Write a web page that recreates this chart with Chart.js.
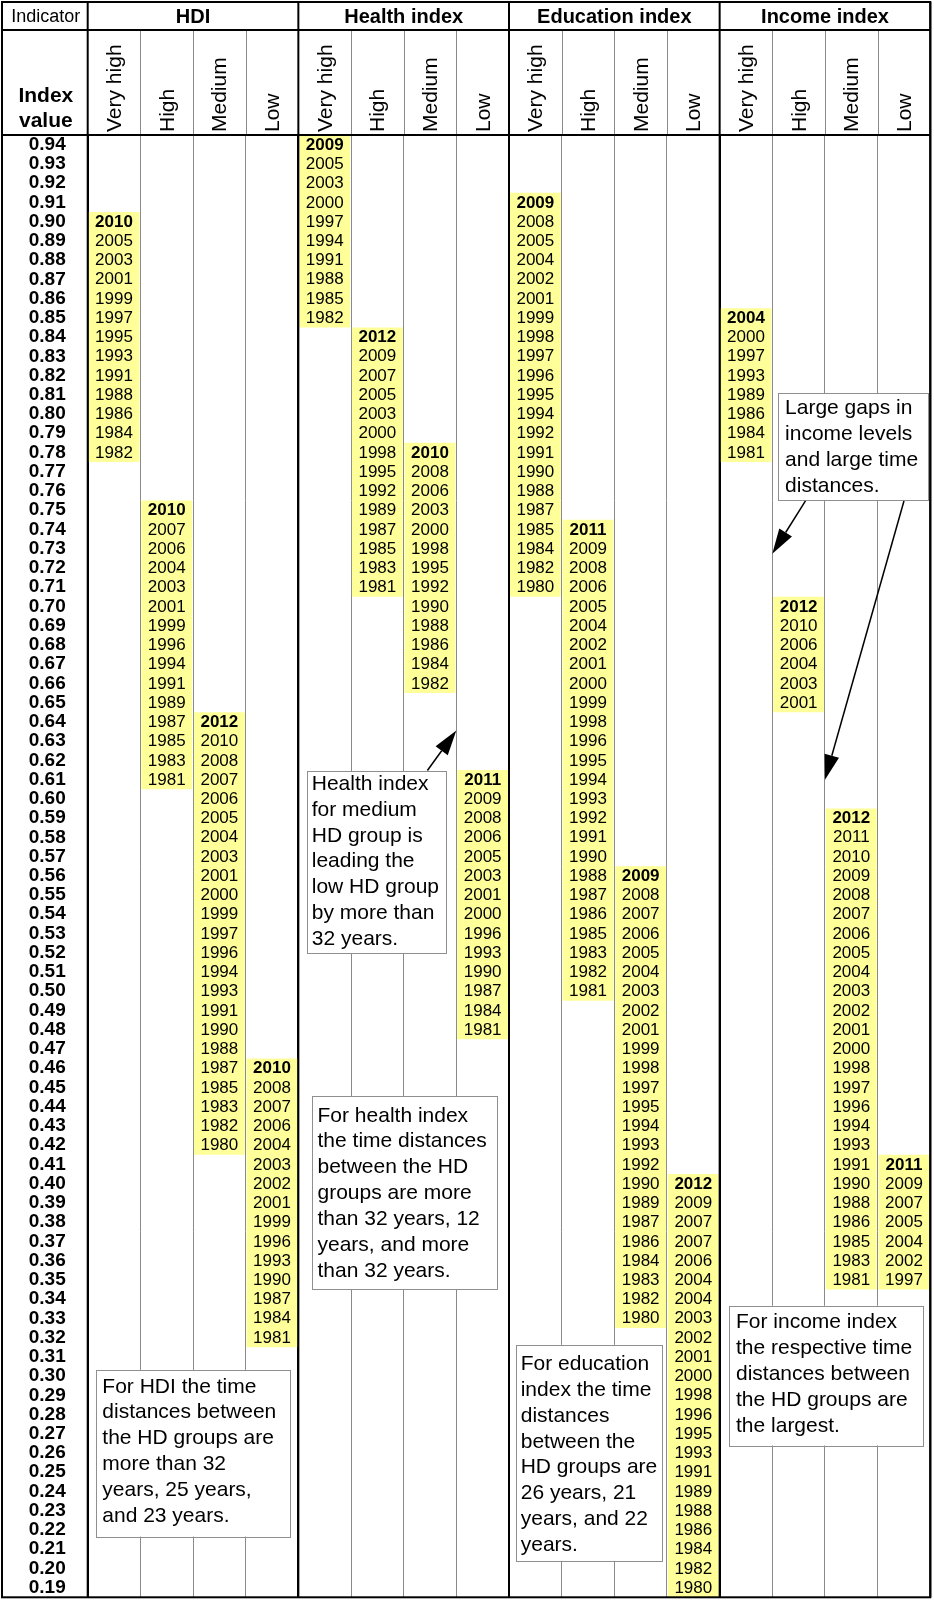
<!DOCTYPE html>
<html>
<head>
<meta charset="utf-8">
<script src="https://cdn.jsdelivr.net/npm/chart.js@4.4.1/dist/chart.umd.min.js"></script>
<style>html,body{margin:0;padding:0;background:#fff}canvas{display:block}</style>
</head>
<body>
<canvas id="c" width="934" height="1600"></canvas>
<script>
// ---------- DATA ----------
const indexValues = ['0.94','0.93','0.92','0.91','0.90','0.89','0.88','0.87','0.86','0.85',
  '0.84','0.83','0.82','0.81','0.80','0.79','0.78','0.77','0.76','0.75','0.74','0.73','0.72',
  '0.71','0.70','0.69','0.68','0.67','0.66','0.65','0.64','0.63','0.62','0.61','0.60','0.59',
  '0.58','0.57','0.56','0.55','0.54','0.53','0.52','0.51','0.50','0.49','0.48','0.47','0.46',
  '0.45','0.44','0.43','0.42','0.41','0.40','0.39','0.38','0.37','0.36','0.35','0.34','0.33',
  '0.32','0.31','0.30','0.29','0.28','0.27','0.26','0.25','0.24','0.23','0.22','0.21','0.20','0.19'];

const groups = ['HDI', 'Health index', 'Education index', 'Income index'];
const levels = ['Very high', 'High', 'Medium', 'Low'];

// index value at which each column's list of years begins (top row)
const hdiStart       = ['0.90', '0.75', '0.64', '0.46'];
const healthStart    = ['0.94', '0.84', '0.78', '0.61'];
const educationStart = ['0.91', '0.74', '0.56', '0.40'];
const incomeStart    = ['0.85', '0.70', '0.59', '0.41'];

// years, one per index row, from the top row downwards
const hdiVeryHigh = [2010,2005,2003,2001,1999,1997,1995,1993,1991,1988,1986,1984,1982];
const hdiHigh     = [2010,2007,2006,2004,2003,2001,1999,1996,1994,1991,1989,1987,1985,1983,1981];
const hdiMedium   = [2012,2010,2008,2007,2006,2005,2004,2003,2001,2000,1999,1997,1996,1994,1993,1991,1990,1988,1987,1985,1983,1982,1980];
const hdiLow      = [2010,2008,2007,2006,2004,2003,2002,2001,1999,1996,1993,1990,1987,1984,1981];

const healthVeryHigh = [2009,2005,2003,2000,1997,1994,1991,1988,1985,1982];
const healthHigh     = [2012,2009,2007,2005,2003,2000,1998,1995,1992,1989,1987,1985,1983,1981];
const healthMedium   = [2010,2008,2006,2003,2000,1998,1995,1992,1990,1988,1986,1984,1982];
const healthLow      = [2011,2009,2008,2006,2005,2003,2001,2000,1996,1993,1990,1987,1984,1981];

const educationVeryHigh = [2009,2008,2005,2004,2002,2001,1999,1998,1997,1996,1995,1994,1992,1991,1990,1988,1987,1985,1984,1982,1980];
const educationHigh     = [2011,2009,2008,2006,2005,2004,2002,2001,2000,1999,1998,1996,1995,1994,1993,1992,1991,1990,1988,1987,1986,1985,1983,1982,1981];
const educationMedium   = [2009,2008,2007,2006,2005,2004,2003,2002,2001,1999,1998,1997,1995,1994,1993,1992,1990,1989,1987,1986,1984,1983,1982,1980];
const educationLow      = [2012,2009,2007,2007,2006,2004,2004,2003,2002,2001,2000,1998,1996,1995,1993,1991,1989,1988,1986,1984,1982,1980];

const incomeVeryHigh = [2004,2000,1997,1993,1989,1986,1984,1981];
const incomeHigh     = [2012,2010,2006,2004,2003,2001];
const incomeMedium   = [2012,2011,2010,2009,2008,2007,2006,2005,2004,2003,2002,2001,2000,1998,1997,1996,1994,1993,1991,1990,1988,1986,1985,1983,1981];
const incomeLow      = [2011,2009,2007,2005,2004,2002,1997];

// notes: anchor = [column position, index value] of the box's top-left corner
const notes = [
  { anchor: [12.60, 0.8109], lines: ['Large gaps in','income levels','and large time','distances.'],
    arrows: [ { from: [13.13, 0.7548], to: [12.5, 0.7274] }, { from: [15.0, 0.7548], to: [13.5, 0.6099] } ] },
  { anchor: [3.66, 0.6142], lines: ['Health index','for medium','HD group is','leading the','low HD group','by more than','32 years.'],
    arrows: [ { from: [5.95, 0.6147], to: [6.5, 0.6355] } ] },
  { anchor: [3.75, 0.4453], lines: ['For health index','the time distances','between the HD','groups are more','than 32 years, 12','years, and more','than 32 years.'], arrows: [] },
  { anchor: [-0.348, 0.3032], lines: ['For HDI the time','distances between','the HD groups are','more than 32','years, 25 years,','and 23 years.'], arrows: [] },
  { anchor: [7.633, 0.3162], lines: ['For education','index the time','distances','between the','HD groups are','26 years, 21','years, and 22','years.'], arrows: [] },
  { anchor: [11.672, 0.3365], lines: ['For income index','the respective time','distances between','the HD groups are','the largest.'], arrows: [] }
];

// ---------- STYLE ----------
const noteStyle = [
  { w: 150,   h: 107.4, px: 7.5, py: 15.2 },
  { w: 139.3, h: 181.6, px: 5,   py: 12.6 },
  { w: 185,   h: 192.6, px: 6,   py: 19.3 },
  { w: 193.6, h: 166.7, px: 6.6, py: 16.9 },
  { w: 145.7, h: 216,   px: 4.7, py: 19.3 },
  { w: 193.6, h: 139.7, px: 7.3, py: 16.8 }
];
const FF = '"Liberation Sans", Arial, Helvetica, sans-serif';
const YELLOW = '#FFFF99';
const THIN = '#8a8a8a';

// ---------- BUILD ----------
const columnYears = [hdiVeryHigh, hdiHigh, hdiMedium, hdiLow,
  healthVeryHigh, healthHigh, healthMedium, healthLow,
  educationVeryHigh, educationHigh, educationMedium, educationLow,
  incomeVeryHigh, incomeHigh, incomeMedium, incomeLow];
const columnStarts = [...hdiStart, ...healthStart, ...educationStart, ...incomeStart];
const columnLabels = groups.flatMap(g => levels.map(l => g + ' – ' + l));

const half = 0.005;
const cellSpans = columnYears.map((yrs, c) => {
  const r0 = indexValues.indexOf(columnStarts[c]);
  const top = parseFloat(indexValues[r0]);
  const bottom = parseFloat(indexValues[r0 + yrs.length - 1]);
  return [bottom - half, top + half];
});

const tablePlugin = {
  id: 'tableDecor',
  afterDatasetsDraw(chart) {
    const { ctx, scales: { x, y } } = chart;
    ctx.save();
    // years in cells
    ctx.fillStyle = '#000';
    ctx.textAlign = 'center';
    ctx.textBaseline = 'middle';
    columnYears.forEach((yrs, c) => {
      const r0 = indexValues.indexOf(columnStarts[c]);
      yrs.forEach((yr, k) => {
        const v = parseFloat(indexValues[r0 + k]);
        ctx.font = (k === 0 ? 'bold ' : '') + '17px ' + FF;
        ctx.fillText(String(yr), x.getPixelForValue(c), y.getPixelForValue(v) + 0.5);
      });
    });

    // note boxes
    notes.forEach((n, i) => {
      const st = noteStyle[i];
      const bx = x.getPixelForValue(n.anchor[0]);
      const by = y.getPixelForValue(n.anchor[1]);
      ctx.fillStyle = '#fff';
      ctx.fillRect(bx, by, st.w, st.h);
      ctx.strokeStyle = '#8f8f8f';
      ctx.lineWidth = 1;
      ctx.strokeRect(Math.round(bx) + 0.5, Math.round(by) + 0.5, Math.round(st.w), Math.round(st.h));
      ctx.fillStyle = '#000';
      ctx.font = '21px ' + FF;
      ctx.textAlign = 'left';
      ctx.textBaseline = 'middle';
      n.lines.forEach((t, j) => ctx.fillText(t, bx + st.px, by + st.py + j * 25.85));
      n.arrows.forEach(a => {
        const x1 = x.getPixelForValue(a.from[0]), y1 = y.getPixelForValue(a.from[1]);
        const x2 = x.getPixelForValue(a.to[0]), y2 = y.getPixelForValue(a.to[1]);
        const dx = x2 - x1, dy = y2 - y1, L = Math.hypot(dx, dy);
        const ux = dx / L, uy = dy / L, hl = 25, hw = 7.5;
        const bxh = x2 - ux * hl, byh = y2 - uy * hl;
        ctx.strokeStyle = '#000';
        ctx.lineWidth = 1.5;
        ctx.beginPath(); ctx.moveTo(x1, y1); ctx.lineTo(bxh, byh); ctx.stroke();
        ctx.beginPath();
        ctx.moveTo(x2, y2);
        ctx.lineTo(bxh - uy * hw, byh + ux * hw);
        ctx.lineTo(bxh + uy * hw, byh - ux * hw);
        ctx.closePath();
        ctx.fillStyle = '#000';
        ctx.fill();
      });
    });
    ctx.restore();
  },
  afterDraw(chart) {
    const { ctx, chartArea, scales: { x } } = chart;
    const top = 2, left = 2, groupLine = 30;
    const ht = chartArea.top;
    ctx.save();
    // thin header sub-column lines
    ctx.strokeStyle = THIN; ctx.lineWidth = 1;
    for (let i = 1; i < 16; i++) {
      if (i % 4 === 0) continue;
      const px = Math.round(x.getPixelForValue(i - 0.5)) + 0.5;
      ctx.beginPath(); ctx.moveTo(px, groupLine); ctx.lineTo(px, ht); ctx.stroke();
    }
    // thick lines
    ctx.strokeStyle = '#000'; ctx.lineWidth = 2;
    for (let i = 0; i <= 16; i += 4) {
      const px = x.getPixelForValue(i - 0.5);
      ctx.beginPath(); ctx.moveTo(px, top); ctx.lineTo(px, chartArea.bottom); ctx.stroke();
    }
    const right = x.getPixelForValue(15.5);
    ctx.beginPath();
    ctx.moveTo(left, groupLine); ctx.lineTo(right, groupLine);
    ctx.moveTo(left, ht); ctx.lineTo(right, ht);
    ctx.stroke();
    ctx.strokeRect(left, top, right - left, chartArea.bottom - top);

    // header texts
    ctx.fillStyle = '#000';
    ctx.textAlign = 'center';
    ctx.textBaseline = 'middle';
    const x0 = x.getPixelForValue(-0.5);
    ctx.font = '18px ' + FF;
    ctx.fillText('Indicator', (left + x0) / 2 + 1, 17);
    ctx.font = 'bold 21px ' + FF;
    ctx.fillText('Index', (left + x0) / 2 + 1, 96);
    ctx.fillText('value', (left + x0) / 2 + 1, 121);
    ctx.font = 'bold 20px ' + FF;
    groups.forEach((g, gi) => {
      const cx = (x.getPixelForValue(gi * 4 - 0.5) + x.getPixelForValue(gi * 4 + 3.5)) / 2;
      ctx.fillText(g, cx, 17);
    });
    ctx.font = '21px ' + FF;
    ctx.textAlign = 'left';
    ctx.textBaseline = 'alphabetic';
    columnLabels.forEach((lab, c) => {
      const cx = x.getPixelForValue(c);
      ctx.save();
      ctx.translate(cx + 7, ht - 3);
      ctx.rotate(-Math.PI / 2);
      ctx.fillText(levels[c % 4], 0, 0);
      ctx.restore();
    });
    ctx.restore();
  }
};

new Chart(document.getElementById('c'), {
  type: 'bar',
  data: {
    labels: columnLabels,
    datasets: [{
      label: 'Years at index level',
      data: cellSpans,
      backgroundColor: YELLOW,
      borderWidth: 0,
      barPercentage: 1,
      categoryPercentage: 0.965
    }]
  },
  options: {
    responsive: false,
    maintainAspectRatio: false,
    animation: false,
    devicePixelRatio: 1,
    layout: { padding: { top: 135, left: 2, right: 3.7, bottom: 2.7 } },
    plugins: { legend: { display: false }, tooltip: { enabled: false } },
    scales: {
      x: {
        type: 'category',
        position: 'top',
        offset: true,
        ticks: { display: false },
        border: { display: false },
        grid: {
          offset: true,
          drawTicks: false,
          color: c => (c.index !== undefined && c.index % 4 === 0) ? '#000' : THIN,
          lineWidth: c => (c.index !== undefined && c.index % 4 === 0) ? 2 : 1
        },
        afterFit: s => { s.height = 0; s.paddingLeft = 0; s.paddingRight = 0; }
      },
      y: {
        type: 'linear',
        min: 0.185,
        max: 0.945,
        afterBuildTicks: s => { s.ticks = indexValues.map(v => ({ value: parseFloat(v) })); },
        ticks: {
          autoSkip: false,
          callback: (v, i) => indexValues[i],
          font: { family: FF, size: 19, weight: 'bold' },
          color: '#000',
          padding: 22,
          crossAlign: 'near'
        },
        grid: { display: false, drawTicks: false },
        border: { display: false },
        afterFit: s => { s.width = 85.7; s.paddingTop = 0; s.paddingBottom = 0; }
      }
    }
  },
  plugins: [tablePlugin]
});
</script>
</body>
</html>
